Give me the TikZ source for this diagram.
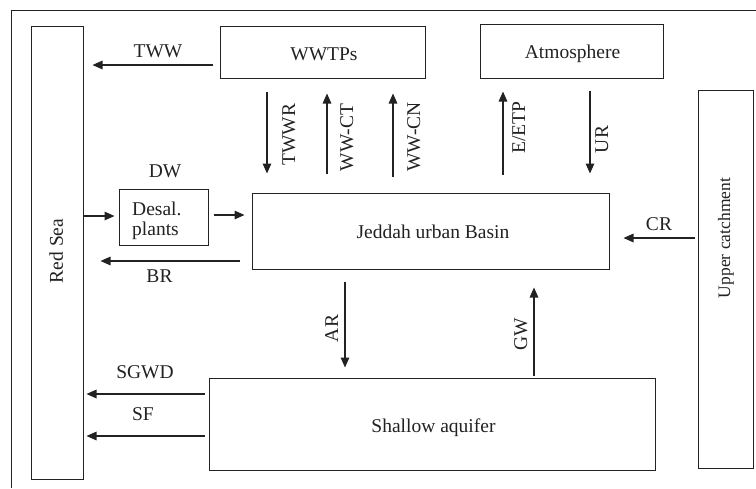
\documentclass[tikz,border=0pt]{standalone}
\usepackage{fontspec}
\setmainfont{Liberation Serif}
\usetikzlibrary{arrows.meta}
\definecolor{ink}{HTML}{222222}
\begin{document}
\begin{tikzpicture}[x=1pt,y=-1pt,
  box/.style={draw=ink,line width=1pt,inner sep=0pt,anchor=center},
  lbl/.style={text=ink,inner sep=0pt,anchor=base,font=\fontsize{19.5}{21}\selectfont},
  vlbl/.style={lbl,rotate=90},
  arr/.style={draw=ink,line width=1.4pt,-{Triangle[length=10pt,width=8.5pt]}}]
\useasboundingbox (0,0) rectangle (756,488);
\fill[white] (0,0) rectangle (756,488);
\draw[ink,line width=1pt] (11.5,488) -- (11.5,10) -- (756,10);
% boxes
\node[box,minimum width=52pt,minimum height=453pt] (redsea) at (57,252.5) {};
\node[box,minimum width=205pt,minimum height=52pt] (wwtp) at (322.5,52) {};
\node[box,minimum width=183pt,minimum height=54pt] (atm) at (571.5,51) {};
\node[box,minimum width=55pt,minimum height=378pt] (upper) at (725.5,279) {};
\node[box,minimum width=89pt,minimum height=56pt] (desal) at (163.5,217) {};
\node[box,minimum width=357pt,minimum height=76pt] (jed) at (430.5,231) {};
\node[box,minimum width=446pt,minimum height=92pt] (aq) at (432,424) {};
% box texts
\node[vlbl] (tredsea) at (63,251) {Red Sea};
\node[lbl] (twwtp) at (324,60) {WWTPs};
\node[lbl] (tatm) at (572.5,58) {Atmosphere};
\node[vlbl,font=\fontsize{17.5}{20}\selectfont] (tupper) at (730,238) {Upper catchment};
\node[lbl,anchor=base west] (tdesal1) at (132,215) {Desal.};
\node[lbl,anchor=base west] (tdesal2) at (132,235) {plants};
\node[lbl] (tjed) at (433,238) {Jeddah urban Basin};
\node[lbl] (taq) at (433.5,432) {Shallow aquifer};
% arrows
\draw[arr,shorten <=7pt,shorten >=9pt] (wwtp.west |- 0,65) -- (redsea.east |- 0,65);
\draw[arr,shorten <=13pt,shorten >=19pt] (wwtp.south -| 267,0) -- (jed.north -| 267,0);
\draw[arr,shorten <=19pt,shorten >=15pt] (jed.north -| 327,0) -- (wwtp.south -| 327,0);
\draw[arr,shorten <=16pt,shorten >=15pt] (jed.north -| 393,0) -- (wwtp.south -| 393,0);
\draw[arr,shorten <=18pt,shorten >=13pt] (jed.north -| 503,0) -- (atm.south -| 503,0);
\draw[arr,shorten <=12pt,shorten >=19pt] (atm.south -| 590,0) -- (jed.north -| 590,0);
\draw[arr,shorten >=4pt] (redsea.east |- 0,216) -- (desal.west |- 0,216);
\draw[arr,shorten <=5pt,shorten >=7pt] (desal.east |- 0,215) -- (jed.west |- 0,215);
\draw[arr,shorten <=3pt,shorten >=14pt] (upper.west |- 0,238) -- (jed.east |- 0,238);
\draw[arr,shorten <=12pt,shorten >=17pt] (jed.west |- 0,261) -- (redsea.east |- 0,261);
\draw[arr,shorten <=12pt,shorten >=10pt] (jed.south -| 345,0) -- (aq.north -| 345,0);
\draw[arr,shorten <=2pt,shorten >=18pt] (aq.north -| 534,0) -- (jed.south -| 534,0);
\draw[arr,shorten <=4pt,shorten >=3pt] (aq.west |- 0,394) -- (redsea.east |- 0,394);
\draw[arr,shorten <=4pt,shorten >=3pt] (aq.west |- 0,436) -- (redsea.east |- 0,436);
% arrow labels
\node[lbl] (ltww) at (158,57) {TWW};
\node[vlbl] (ltwwr) at (295,134.5) {TWWR};
\node[vlbl] (lwwct) at (353,137.5) {WW-CT};
\node[vlbl] (lwwcn) at (420,137) {WW-CN};
\node[vlbl] (letp) at (525,127.5) {E/ETP};
\node[vlbl] (lur) at (608,139.5) {UR};
\node[lbl] (ldw) at (165,177) {DW};
\node[lbl] (lcr) at (659,230) {CR};
\node[lbl] (lbr) at (159.5,282) {BR};
\node[vlbl] (lar) at (338,328.5) {AR};
\node[vlbl] (lgw) at (527,334.5) {GW};
\node[lbl] (lsgwd) at (145,378) {SGWD};
\node[lbl] (lsf) at (143,420) {SF};
\end{tikzpicture}
\end{document}
